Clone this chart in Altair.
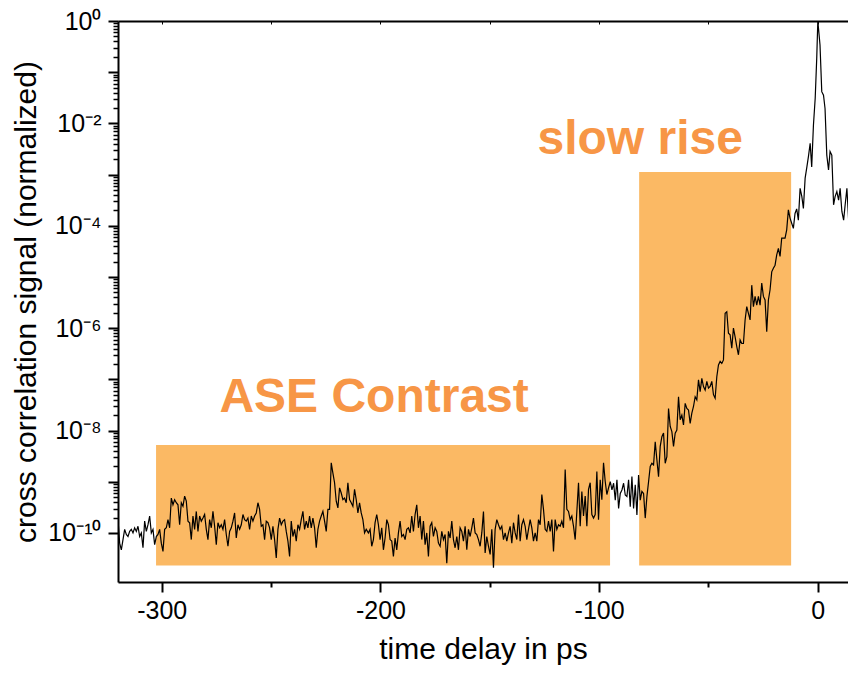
import altair as alt
import numpy as np
import pandas as pd

# ---------------- data ----------------
# log10 of the normalized cross-correlation signal, uniformly sampled segments
seg1_start, seg1_end = -320.0, -206.5
seg1_log = [
    -9.74, -10.20, -10.33, -10.13, -9.93, -10.03, -10.07, -9.97, -9.93, -10.00,
    -9.90, -9.97, -9.87, -10.07, -10.00, -10.29, -9.77, -9.97, -9.84, -9.67,
    -10.00, -9.93, -10.23, -10.07, -10.03, -9.93, -10.20, -10.36, -9.93, -9.90,
    -9.74, -9.90, -9.32, -9.45, -9.35, -9.41, -9.45, -9.84, -9.41, -9.48,
    -9.28, -9.38, -9.77, -9.80, -10.13, -9.67, -9.93, -9.58, -9.97, -9.67,
    -9.77, -9.71, -9.64, -9.93, -10.13, -9.74, -9.90, -9.58, -9.87, -10.23,
    -9.80, -9.90, -9.84, -9.93, -9.74, -10.03, -10.26, -9.97, -9.90, -9.77,
    -9.61, -10.10, -9.84, -9.93, -9.84, -9.64, -9.74, -9.77, -9.71, -9.93,
    -9.67, -9.77, -9.67, -9.61, -9.41, -9.54, -9.87, -9.84, -10.13, -9.77,
    -9.80, -9.90, -10.13, -9.87, -10.13, -10.49, -9.93, -9.71, -9.84, -9.77,
    -9.74, -9.97, -10.16, -10.46, -9.77, -10.07, -9.93, -10.16, -9.84, -9.93,
    -9.74, -9.58, -9.93, -9.77, -9.90, -9.67, -9.90, -9.71, -9.90, -10.29,
    -9.93, -9.77, -9.67, -9.58, -9.77, -9.97, -9.54, -9.54, -8.63, -8.83,
    -9.02, -9.38, -9.51, -9.12, -9.22, -9.35, -9.32, -9.41, -9.02, -9.35,
    -9.41, -9.48, -9.15, -9.35, -9.61, -9.41, -9.61, -9.74, -10.00, -9.93,
]
seg2_start, seg2_end = -205.5, -95.7
seg2_log = [
    -10.00, -9.93, -10.26, -10.13, -9.80, -9.64, -9.84, -10.13, -9.90, -10.33,
    -10.10, -9.74, -9.84, -10.13, -10.16, -10.46, -10.10, -10.33, -10.00, -9.77,
    -10.07, -10.03, -10.13, -9.93, -9.90, -10.00, -9.67, -9.97, -9.64, -9.45,
    -9.90, -9.67, -10.13, -9.77, -10.23, -10.00, -10.46, -9.87, -9.80, -10.07,
    -9.90, -9.97, -10.20, -10.26, -9.97, -10.13, -10.03, -10.59, -9.97, -10.10,
    -9.77, -10.13, -10.29, -10.07, -10.33, -9.90, -9.97, -10.16, -9.87, -10.33,
    -9.93, -10.07, -9.90, -9.71, -10.00, -10.03, -10.13, -10.26, -10.00, -9.58,
    -10.39, -10.07, -10.26, -10.42, -9.93, -10.68, -9.93, -9.74, -9.84, -9.93,
    -9.87, -10.13, -10.00, -10.16, -10.00, -9.87, -10.20, -9.80, -10.00, -10.13,
    -9.64, -10.16, -9.84, -9.74, -9.87, -10.13, -9.93, -9.74, -9.90, -10.16,
    -10.00, -10.16, -9.74, -9.84, -9.25, -9.54, -9.93, -9.97, -9.77, -9.97,
    -9.74, -10.36, -9.74, -9.93, -9.84, -9.87, -9.77, -9.90, -8.76, -9.54,
    -9.58, -9.74, -9.67, -9.87, -10.13, -9.58, -9.02, -9.87, -9.19, -9.67,
    -9.28, -9.87, -9.15, -9.02, -9.64, -9.71, -9.64, -8.80, -9.74, -8.96,
    -9.35, -8.63, -8.99, -9.25, -9.12,
]
seg3_start, seg3_end = -94.9, -8.9
seg3_log = [
    -9.00, -9.16, -9.03, -9.36, -8.96, -9.52, -9.23, -9.16, -9.03, -9.26,
    -9.29, -8.96, -9.49, -8.90, -9.52, -9.06, -9.65, -8.87, -9.36, -9.19,
    -9.23, -9.71, -9.29, -9.00, -8.70, -8.64, -8.67, -8.22, -8.57, -8.90,
    -8.31, -8.12, -8.05, -8.64, -8.51, -7.57, -7.92, -8.02, -8.31, -8.05,
    -7.99, -7.34, -7.79, -7.70, -7.89, -7.47, -7.57, -7.60, -7.86, -7.66,
    -7.53, -7.34, -7.40, -7.01, -7.24, -6.98, -7.14, -7.21, -7.04, -7.17,
    -7.14, -7.04, -7.30, -7.37, -6.95, -6.72, -6.65, -6.69, -6.62, -5.71,
    -5.68, -6.10, -6.13, -6.39, -6.00, -6.17, -6.36, -6.52, -6.23, -6.30,
    -6.30, -5.84, -5.58, -5.71, -5.84, -5.16, -5.58, -5.38, -5.55, -5.38,
    -5.55, -5.12, -5.38, -5.45, -6.07, -5.45, -5.25, -4.90, -4.83, -4.77,
    -4.57, -4.44, -4.60, -4.24, -4.24, -4.24, -4.08, -3.69, -3.85, -3.95,
    -4.05, -3.76, -3.67, -3.89,
]
peak_time = [
    -8.1, -7.3, -6.6, -5.8, -5.0, -4.3, -3.5, -2.8, -2.0, -1.2, -0.5, 0.0,
    0.3, 1.0, 1.8, 2.6, 3.3, 4.1, 4.9, 5.6, 6.4, 7.2, 7.9, 8.7, 9.5, 10.2,
    11.0, 11.8, 12.5, 13.3, 14.1, 14.8, 15.6, 16.4,
]
peak_log = [
    -3.27, -3.43, -3.66, -3.07, -2.85, -2.65, -2.39, -2.85, -2.03, -1.51, -0.73, 0.0,
    -0.14, -0.47, -1.38, -1.45, -1.71, -2.62, -2.91, -2.55, -2.62, -3.59, -3.43, -3.33,
    -3.50, -3.27, -3.72, -3.89, -3.59, -3.27, -3.89, -3.95, -4.05, -4.28,
]

region_names = ["ASE Contrast", "slow rise"]
region_start = [-302.6, -81.7]
region_end = [-95.0, -12.2]
region_low = [2.3e-11, 2.3e-11]
region_high = [5.2e-9, 1.12e-3]
label_time = [-202.9, -81.2]
label_signal = [2.3e-8, 2.5e-3]

x_major = [-300, -200, -100, 0]
x_minor = [-250, -150, -50]
x_top = [-300, -250, -200, -150, -100, -50, 0]
y_decades = [10.0 ** e for e in range(0, -11, -1)]
y_minor = [k * 10.0 ** e for e in range(-10, 0) for k in range(2, 10)]

# ---------------- tables ----------------
time = np.concatenate([
    np.linspace(seg1_start, seg1_end, len(seg1_log)),
    np.linspace(seg2_start, seg2_end, len(seg2_log)),
    np.linspace(seg3_start, seg3_end, len(seg3_log)),
    np.array(peak_time),
])
logv = np.concatenate([seg1_log, seg2_log, seg3_log, peak_log])
df = pd.DataFrame({"time": time, "signal": 10.0 ** logv})

regions = pd.DataFrame({
    "name": region_names, "start": region_start, "end": region_end,
    "low": region_low, "high": region_high,
    "lx": label_time, "ly": label_signal,
})

# ---------------- styling ----------------
FONT = "Arial"
SUP = {"0": "⁰", "1": "¹", "2": "²", "4": "⁴", "6": "⁶", "8": "⁸", "-": "⁻"}
parts = []
for e in range(0, -11, -2):
    lab = "10" + "".join(SUP[c] for c in str(e))
    parts.append(f"abs(log(datum.value)/LN10 - ({e})) < 0.01 ? '{lab}'")
y_label_expr = " : ".join(parts) + " : ''"

x_scale = alt.Scale(domain=[-320, 13.8], nice=False, zero=False)
y_scale = alt.Scale(type="log", domain=[1.1e-11, 1], nice=False)

common = dict(grid=False, domainColor="black", tickColor="black",
              labelColor="black", titleColor="black")

x_major_axis = alt.Axis(
    orient="bottom", values=x_major, tickSize=10, tickWidth=2, domainWidth=2,
    labelFont=FONT, labelFontSize=25, labelPadding=6, labelExpr="'' + datum.value",
    titleFont=FONT, titleFontSize=30, titleFontWeight="normal",
    titleY=76, titleBaseline="alphabetic", **common)
y_major_axis = alt.Axis(
    orient="left", values=y_decades, tickSize=10, tickWidth=2, domainWidth=2,
    labelFont=FONT, labelFontSize=25, labelPadding=7, labelExpr=y_label_expr,
    titleFont=FONT, titleFontSize=30, titleFontWeight="normal",
    titleX=-83, titleBaseline="alphabetic", **common)
x_minor_axis = alt.Axis(orient="bottom", values=x_minor, tickSize=5, tickWidth=2,
                        labels=False, domain=False, **common)
y_minor_axis = alt.Axis(orient="left", values=y_minor, tickSize=5, tickWidth=1.5,
                        labels=False, domain=False, **common)
x_top_axis = alt.Axis(orient="bottom", offset=-561, values=x_top, tickSize=3,
                      tickWidth=1, labels=False, domainWidth=2, **common)

rect = alt.Chart(regions).mark_rect(color="#FBB964").encode(
    x=alt.X("start:Q", scale=x_scale, axis=None),
    x2="end",
    y=alt.Y("low:Q", scale=y_scale, axis=None),
    y2="high",
)

line = alt.Chart(df).mark_line(color="black", strokeWidth=1.2, clip=True).encode(
    x=alt.X("time:Q", scale=x_scale, axis=x_major_axis, title="time delay in ps"),
    y=alt.Y("signal:Q", scale=y_scale, axis=y_major_axis,
            title="cross correlation signal (normalized)"),
)

text = alt.Chart(regions).mark_text(
    font=FONT, fontSize=48, fontWeight="bold", color="#F79646",
    align="center", baseline="alphabetic",
).encode(
    x=alt.X("lx:Q", scale=x_scale, axis=None),
    y=alt.Y("ly:Q", scale=y_scale, axis=None),
    text="name:N",
)

minor = alt.Chart(df).mark_point(opacity=0, size=1).encode(
    x=alt.X("time:Q", scale=x_scale, axis=x_minor_axis, title=None),
    y=alt.Y("signal:Q", scale=y_scale, axis=y_minor_axis, title=None),
)

top = alt.Chart(df).mark_point(opacity=0, size=1).encode(
    x=alt.X("time:Q", scale=x_scale, axis=x_top_axis, title=None),
    y=alt.Y("signal:Q", scale=y_scale, axis=None),
)

chart = (
    alt.layer(rect, line, text, minor, top)
    .resolve_scale(x="shared", y="shared")
    .resolve_axis(x="independent", y="independent")
    .properties(
        width=730, height=561,
        autosize=alt.AutoSizeParams(type="none"),
        padding={"left": 110, "top": 13, "right": 0, "bottom": 83},
        background="white",
    )
    .configure_view(strokeWidth=0)
)

chart.save("out.html", embed_options={"renderer": "svg", "actions": False})
